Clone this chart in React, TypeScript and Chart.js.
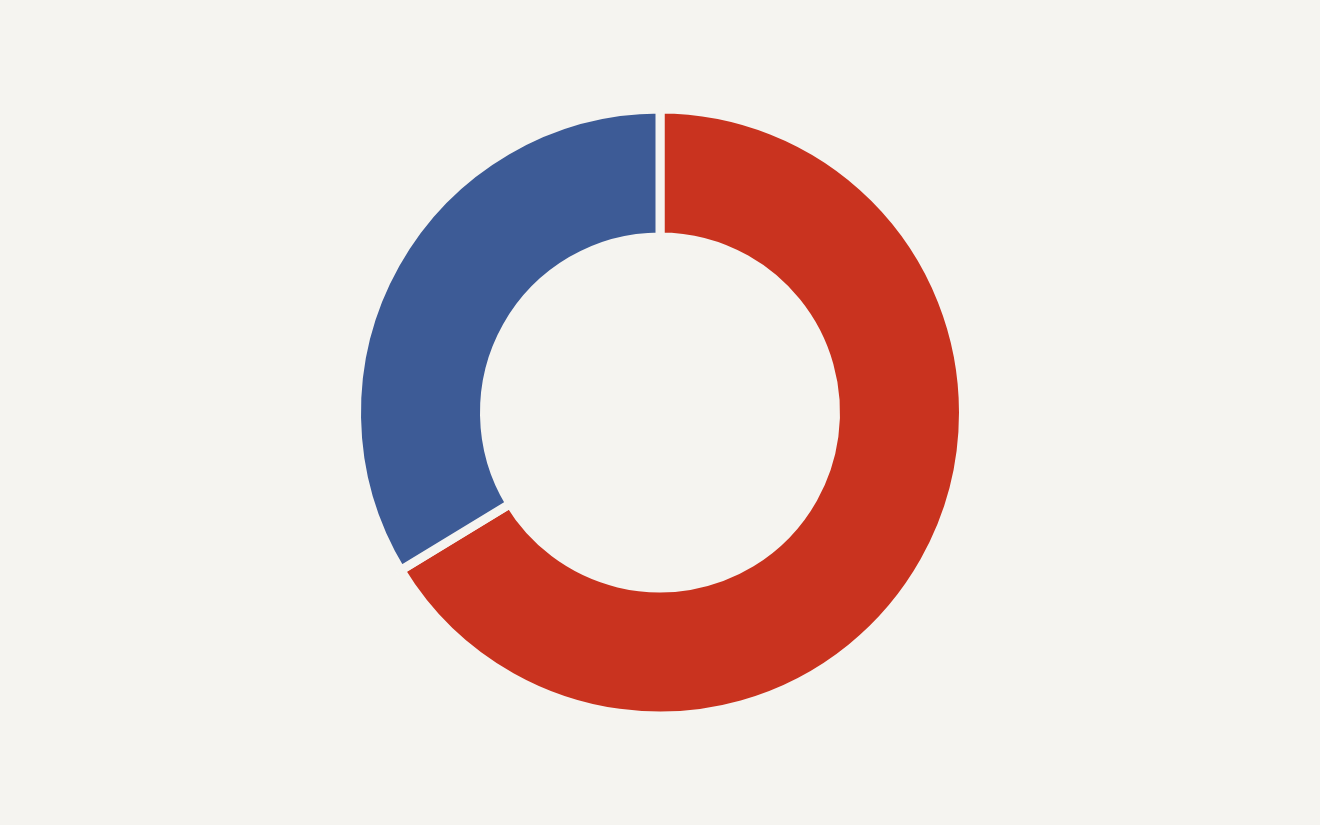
import { useEffect, useRef } from 'react';
import Chart from 'chart.js/auto';

const labels = ['Red', 'Blue'];
const values = [66.3, 33.7];
const colors = ['#c9331f', '#3d5b96'];
const bg = '#f5f4f0';

export default function App() {
  const chartRef = useRef<HTMLCanvasElement>(null);
  const chartInstance = useRef<Chart | null>(null);

  useEffect(() => {
    if (chartRef.current) {
      const ctx = chartRef.current.getContext('2d');
      if (ctx) {
        chartInstance.current = new Chart(ctx, {
          type: 'doughnut',
          data: {
            labels: labels,
            datasets: [{
              data: values,
              backgroundColor: colors,
              borderColor: bg,
              borderWidth: 9,
              borderJoinStyle: 'miter',
            }]
          },
          options: {
            animation: false,
            responsive: true,
            maintainAspectRatio: false,
            radius: 303.5,
            // inner edge sits at ~180px once the border is drawn
            cutout: '57.83%',
            layout: { padding: 0 },
            plugins: {
              legend: { display: false },
              tooltip: { enabled: false }
            }
          }
        });
      }
    }
    return () => {
      chartInstance.current?.destroy();
    };
  }, []);

  return (
    <div style={{ position: 'fixed', left: 0, top: 0, width: 1320, height: 825, background: bg }}>
      <canvas ref={chartRef}></canvas>
    </div>
  );
}
